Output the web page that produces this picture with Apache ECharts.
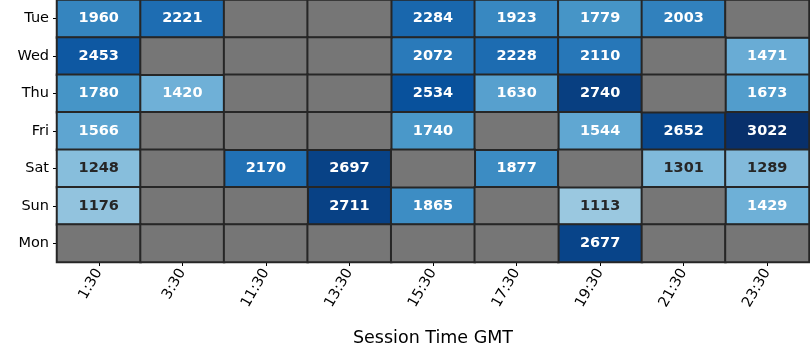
<!DOCTYPE html>
<html><head><meta charset="utf-8">
<script src="https://cdn.jsdelivr.net/npm/echarts@6/dist/echarts.min.js"></script>
<style>html,body{margin:0;padding:0;background:#fff}#c{width:810px;height:360px}</style>
</head><body><div id="c"></div>
<script>
const times = ['1:30','3:30','11:30','13:30','15:30','17:30','19:30','21:30','23:30'];
const days = ['Tue','Wed','Thu','Fri','Sat','Sun','Mon'];
const tue = [1960, 2221, null, null, 2284, 1923, 1779, 2003, null];
const wed = [2453, null, null, null, 2072, 2228, 2110, null, 1471];
const thu = [1780, 1420, null, null, 2534, 1630, 2740, null, 1673];
const fri = [1566, null, null, null, 1740, null, 1544, 2652, 3022];
const sat = [1248, null, 2170, 2697, null, 1877, null, 1301, 1289];
const sun = [1176, null, null, 2711, 1865, null, 1113, null, 1429];
const mon = [null, null, null, null, null, null, 2677, null, null];
const rows = [tue, wed, thu, fri, sat, sun, mon];

const vals = [], missing = [];
rows.forEach((r, yi) => r.forEach((v, xi) => {
  if (v == null) missing.push([xi, yi, 0]);
  else vals.push({value: [xi, yi, v], label: {color: v < 1400 ? '#262626' : '#ffffff'}});
}));

const chart = echarts.init(document.getElementById('c'));
const font = 'DejaVu Sans';
chart.setOption({
  animation: false,
  textStyle: {fontFamily: font},
  grid: {left: 57, right: 1, top: 0, bottom: 98},
  xAxis: {
    type: 'category', data: times,
    name: 'Session Time GMT', nameLocation: 'middle', nameGap: 67,
    nameTextStyle: {fontSize: 17.5, color: '#000', fontFamily: font},
    axisLine: {show: false},
    axisTick: {show: true, alignWithLabel: true, length: 4, lineStyle: {color: '#000'}},
    axisLabel: {rotate: 60, fontSize: 14.5, color: '#000', fontFamily: font, margin: 8},
    splitArea: {show: false}
  },
  yAxis: {
    type: 'category', data: days, inverse: true,
    axisLine: {show: false},
    axisTick: {show: true, alignWithLabel: true, length: 4, lineStyle: {color: '#000'}},
    axisLabel: {fontSize: 14.5, color: '#000', fontFamily: font, margin: 8}
  },
  visualMap: {
    show: false, min: 0, max: 2900, seriesIndex: 0, dimension: 2,
    inRange: {color: ['#f7fbff','#deebf7','#c6dbef','#9ecae1','#6baed6','#4292c6','#2171b5','#08519c','#08306b']}
  },
  series: [
    {
      type: 'heatmap', data: vals,
      itemStyle: {borderColor: '#262626', borderWidth: 2},
      label: {show: true, fontSize: 14.5, fontWeight: 'bold', fontFamily: font,
              formatter: p => p.value[2]}
    },
    {
      type: 'heatmap', data: missing,
      itemStyle: {color: '#767676', borderColor: '#262626', borderWidth: 2},
      label: {show: false}
    }
  ]
});
</script></body></html>
